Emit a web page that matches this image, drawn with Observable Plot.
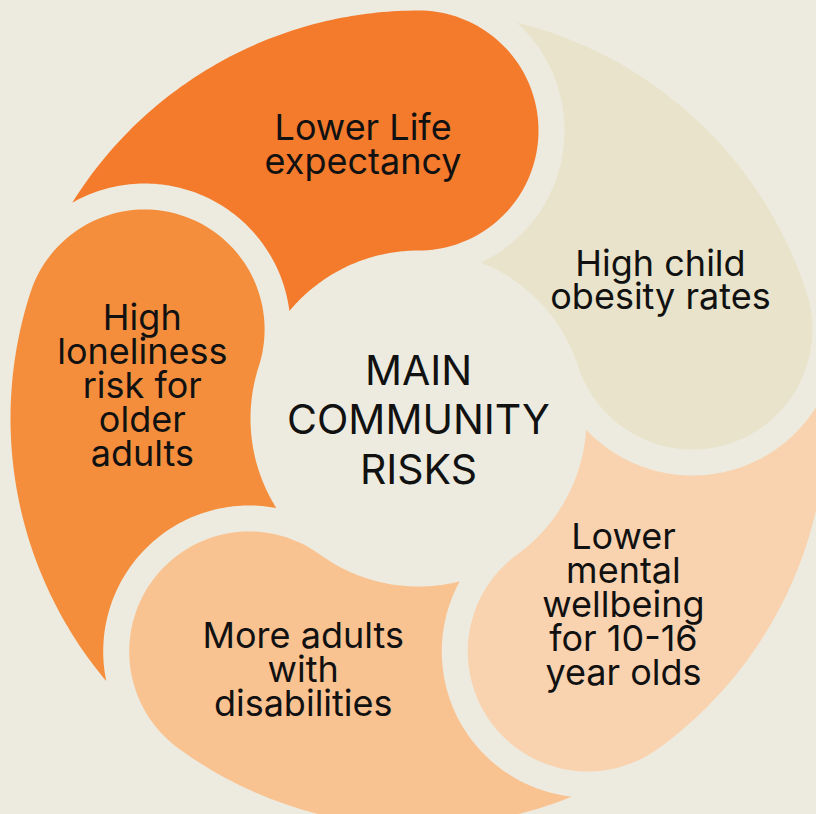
<!DOCTYPE html>
<html>
<head>
<meta charset="utf-8">
<script src="https://cdn.jsdelivr.net/npm/d3@7"></script>
<script src="https://cdn.jsdelivr.net/npm/@observablehq/plot@0.6"></script>
<style>
  html, body { margin: 0; padding: 0; background: #EDEBDF; }
  #chart { width: 816px; height: 814px; overflow: hidden; }
</style>
</head>
<body>
<div id="chart"></div>
<script>
// ---- data ----
const risks = [
  "Lower Life\nexpectancy",
  "High child\nobesity rates",
  "Lower\nmental\nwellbeing\nfor 10-16\nyear olds",
  "More adults\nwith\ndisabilities",
  "High\nloneliness\nrisk for\nolder\nadults"
];
const petalColors = ["#F47A2C", "#E8E3CA", "#F9D3B0", "#F9C291", "#F48E3D"];
const centerTitle = "MAIN\nCOMMUNITY\nRISKS";

// ---- layout (geometry of the swirl) ----
const W = 816, Hgt = 814;
const cx = 418, cy = 418;      // swirl centre
const R = 408;                 // outer radius
const rho = 288;               // radius of head centres
const h = 120;                 // head radius
const gap = 26;                // gap between petals
const r0 = rho - h;            // inner (central circle) radius
const step = 360 / risks.length;
const rad = d => d * Math.PI / 180;
const deg = r => r * 180 / Math.PI;
const P = (r, a) => [cx + r * Math.sin(rad(a)), cy - r * Math.cos(rad(a))];

function petal(i) {
  const th = i * step;
  const prev = th - step;
  const off = h + gap;
  const dT = deg(Math.acos((R * R + rho * rho - off * off) / (2 * R * rho)));
  const dC = deg(Math.acos((r0 * r0 + rho * rho - off * off) / (2 * r0 * rho)));
  const N = 80;
  const pts = [];
  // outer arc: tail tip -> head top
  for (let k = 0; k <= N; k++) pts.push(P(R, prev + dT + (th - prev - dT) * k / N));
  // round head cap
  const Hc = P(rho, th);
  for (let k = 1; k < N; k++) {
    const phi = 180 * k / N;
    pts.push([Hc[0] + h * Math.sin(rad(th + phi)), Hc[1] - h * Math.cos(rad(th + phi))]);
  }
  // inner arc along central circle back to cusp
  for (let k = 0; k <= N; k++) pts.push(P(r0, th - (th - prev - dC) * k / N));
  // concave arc around previous head (offset by gap) back to tail tip
  const Hp = P(rho, prev);
  const phiOf = q => {
    let a = deg(Math.atan2(q[0] - Hp[0], -(q[1] - Hp[1]))) - prev;
    return ((a % 360) + 360) % 360;
  };
  const phiC = phiOf(P(r0, prev + dC));
  const phiT = phiOf(P(R, prev + dT));
  for (let k = 1; k < N; k++) {
    const phi = phiC + (phiT - phiC) * k / N;
    pts.push([Hp[0] + off * Math.sin(rad(prev + phi)), Hp[1] - off * Math.cos(rad(prev + phi))]);
  }
  return pts;
}

const petals = risks.map((_, i) => petal(i));
const labels = risks.map((t, i) => {
  const [x, y] = P(278, i * step - 11.5);
  return { text: t, x, y };
});

const font = "Inter, Roboto, sans-serif";

const chart = Plot.plot({
  width: W,
  height: Hgt,
  margin: 0,
  x: { domain: [0, W], range: [0, W], axis: null },
  y: { domain: [0, Hgt], range: [0, Hgt], axis: null },
  style: { background: "#EDEBDF", fontFamily: font, overflow: "hidden" },
  marks: [
    ...petals.map((pts, i) => Plot.line(pts, {
      x: d => d[0], y: d => d[1],
      fill: petalColors[i], stroke: "none", curve: "linear-closed"
    })),
    Plot.text(labels, {
      x: "x", y: "y", text: "text",
      fontSize: 36, lineHeight: 0.94, fill: "#111",
      fontFamily: font, textAnchor: "middle", lineAnchor: "middle"
    }),
    Plot.text([centerTitle], {
      x: () => cx, y: () => cy, text: d => d,
      fontSize: 41, lineHeight: 1.21, fill: "#111",
      fontFamily: font, textAnchor: "middle", lineAnchor: "middle"
    })
  ]
});
document.getElementById("chart").appendChild(chart);
</script>
</body>
</html>
